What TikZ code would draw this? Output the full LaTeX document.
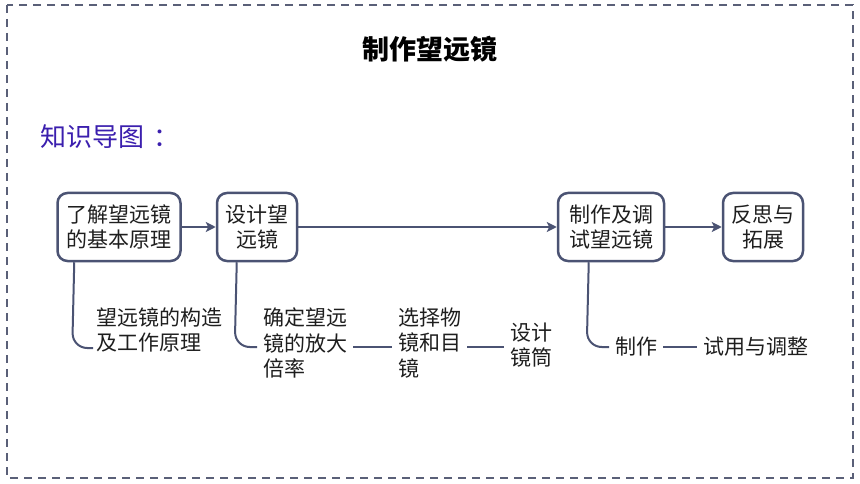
\documentclass[tikz,border=0pt]{standalone}
\usepackage{fontspec}
\setmainfont{Noto Sans CJK SC}
\usetikzlibrary{arrows.meta}
\definecolor{linec}{HTML}{4B5373}
\definecolor{framec}{HTML}{5A6078}
\definecolor{headc}{HTML}{3B1FAE}
\definecolor{txtc}{HTML}{1E1E1E}
\begin{document}
\begin{tikzpicture}[x=1pt,y=-1pt,
  box/.style={draw=linec, line width=2.5pt, rounded corners=10pt, minimum height=68pt, inner sep=0pt, align=center, font=\fontsize{21}{25}\selectfont, text=txtc},
  lbl/.style={anchor=west, inner xsep=6pt, inner ysep=0pt, align=left, font=\fontsize{21}{25.5}\selectfont, text=txtc},
  conn/.style={draw=linec, line width=2pt},
  arr/.style={conn, -{Stealth[length=10pt,width=10pt,inset=2.5pt]}}]
\useasboundingbox (0,0) rectangle (860,484);
\draw[framec, line width=2pt, dash pattern=on 8pt off 6pt] (7,5) rectangle (853,478);
\node[font=\bfseries\fontsize{27}{30}\selectfont, text=black, inner sep=0pt] (title) at (430,49) {制作望远镜};
\node[anchor=west, font=\fontsize{26}{30}\selectfont, text=headc, inner sep=0pt] (head) at (40,137) {知识导图\kern9pt：};
% main boxes
\node[box, minimum width=123pt] (b1) at (119,227) {了解望远镜\\的基本原理};
\node[box, minimum width=80pt] (b2) at (257,227) {设计望\\远镜};
\node[box, minimum width=106pt] (b3) at (611,227) {制作及调\\试望远镜};
\node[box, minimum width=80pt] (b4) at (763,227) {反思与\\拓展};
\draw[arr] (b1) -- (b2);
\draw[arr] (b2) -- (b3);
\draw[arr] (b3) -- (b4);
% sub texts
\node[lbl] (t1) at (90,330) {望远镜的构造\\及工作原理};
\node[lbl] (t2) at (257,343) {确定望远\\镜的放大\\倍率};
\node[lbl] (t3) at (392,343) {选择物\\镜和目\\镜};
\node[lbl] (t4) at (504,345) {设计\\镜筒};
\node[lbl] (t5) at (609,347) {制作};
\node[lbl] (t6) at (697,347) {试用与调整};
% branches
\coordinate (j1) at ([xshift=18pt]b1.south west);
\coordinate (e1) at ([yshift=-18pt,xshift=3pt]t1.west);
\draw[conn, rounded corners=15pt] (j1) -- ([xshift=-2pt]j1 |- e1) -- (e1);
\coordinate (j2) at ([xshift=21pt]b2.south west);
\coordinate (e2) at ([yshift=-4pt]t2.west);
\draw[conn, rounded corners=15pt] (j2) -- ([xshift=-2pt]j2 |- e2) -- (e2);
\coordinate (j3) at ([xshift=32pt]b3.south west);
\draw[conn, rounded corners=15pt] (j3) -- ([xshift=-2pt]j3 |- t5.west) -- (t5.west);
\draw[conn] ([yshift=-4pt]t2.east) -- ([yshift=-4pt]t3.west);
\draw[conn] ([yshift=-4pt]t3.east) -- ([yshift=-2pt]t4.west);
\draw[conn] (t5.east) -- (t6.west);
\end{tikzpicture}
\end{document}
